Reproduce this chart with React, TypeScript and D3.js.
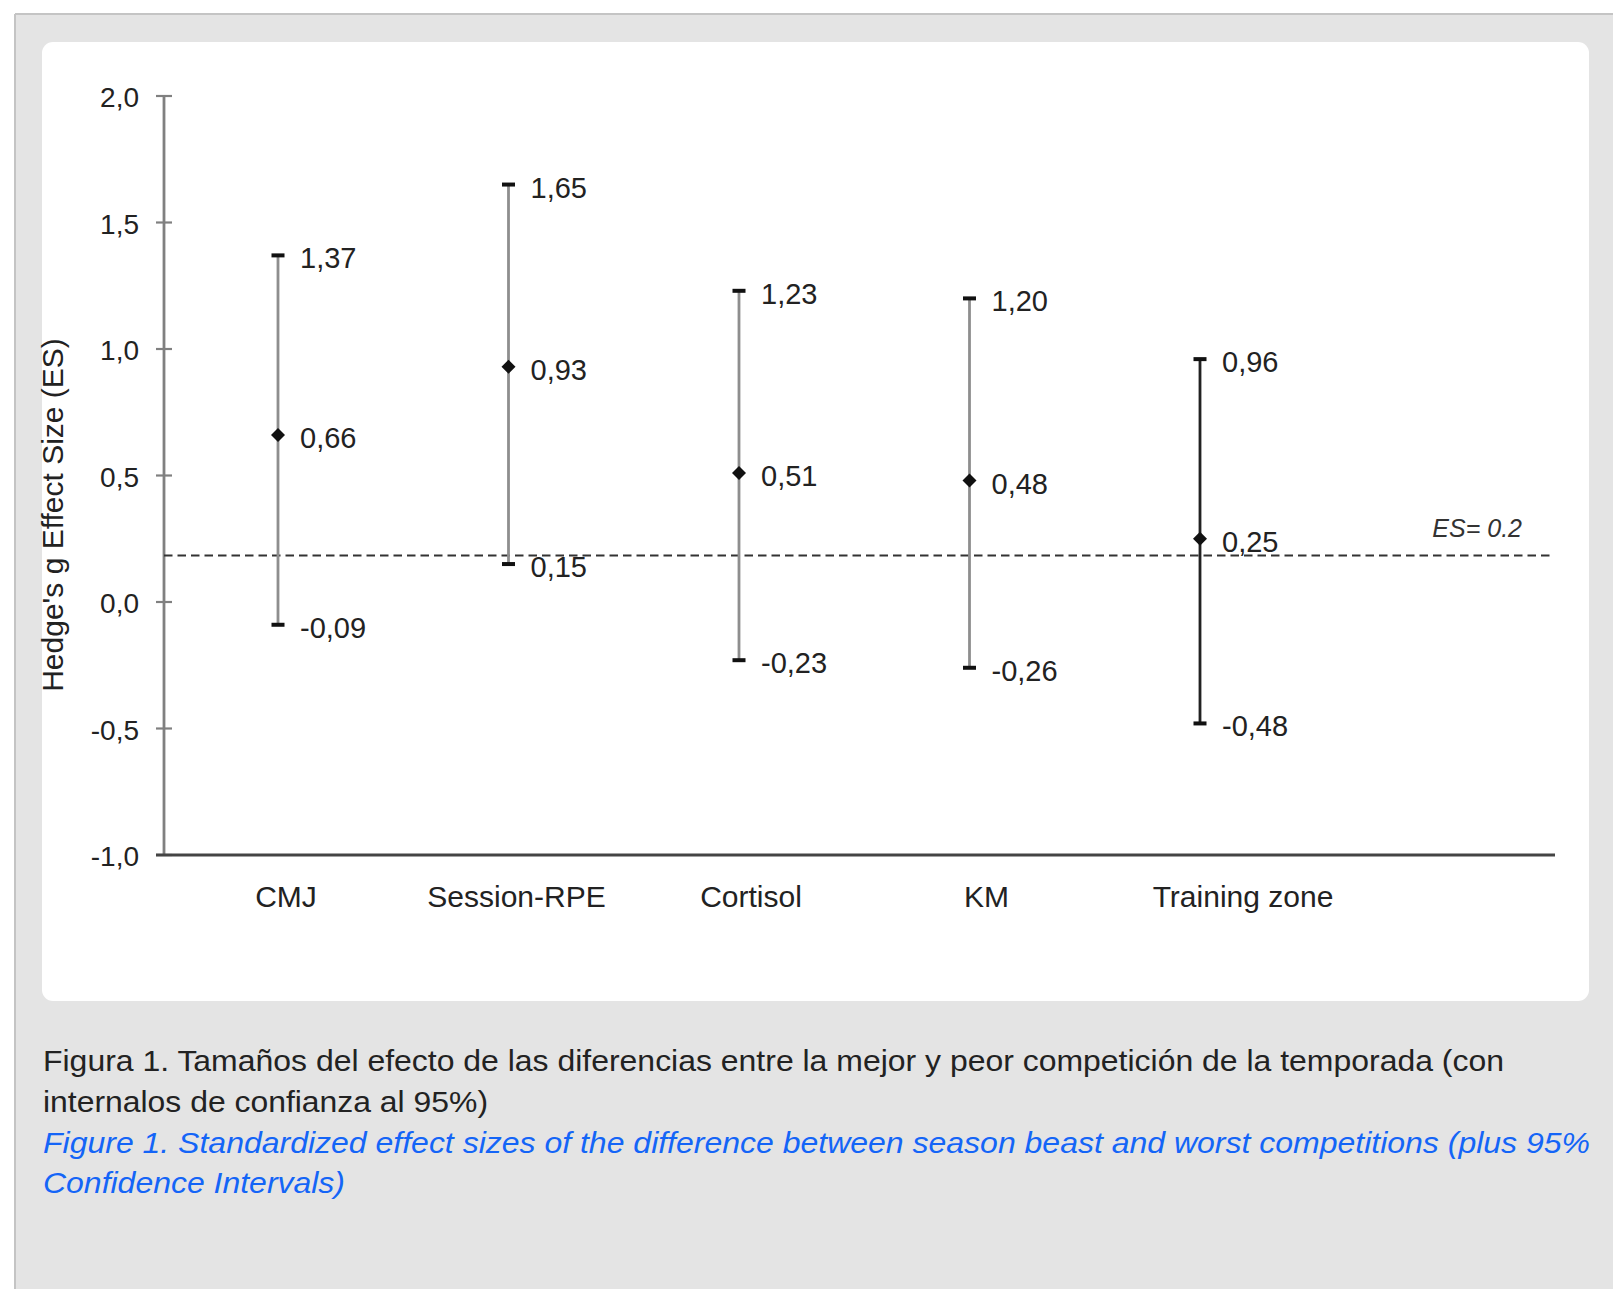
import React from 'react';
import * as d3 from 'd3';

const categories = ['CMJ', 'Session-RPE', 'Cortisol', 'KM', 'Training zone'];
const upperCI = [1.37, 1.65, 1.23, 1.2, 0.96];
const meanES = [0.66, 0.93, 0.51, 0.48, 0.25];
const lowerCI = [-0.09, 0.15, -0.23, -0.26, -0.48];
const yTicks = [-1, -0.5, 0, 0.5, 1, 1.5, 2];
const thresholdES = 0.2;
const thresholdLabel = 'ES= 0.2';
const yTitle = "Hedge's g Effect Size (ES)";
const captionEs = [
  'Figura 1. Tamaños del efecto de las diferencias entre la mejor y peor competición de la temporada (con',
  'internalos de confianza al 95%)',
];
const captionEn = [
  'Figure 1. Standardized effect sizes of the difference between season beast and worst competitions (plus 95%',
  'Confidence Intervals)',
];

const W = 1613;
const H = 1289;
const FONT = '"Liberation Sans", Arial, Helvetica, sans-serif';

const fmt2 = (v: number) => d3.format('.2f')(v).replace('.', ',').replace('−', '-');
const fmt1 = (v: number) => d3.format('.1f')(v).replace('.', ',').replace('−', '-');

// layout-only nudges for category label placement
const labelNudge: Record<string, number> = { CMJ: 8, 'Session-RPE': 8, Cortisol: 12, KM: 17, 'Training zone': 43 };

export default function App() {
  const x = d3.scalePoint<string>().domain(categories).range([278, 1200]);
  const y = d3.scaleLinear().domain([-1, 2]).range([855, 96]);
  const axisX = 164;
  const axisRight = 1555;
  const emphasized = 'Training zone';

  const dH = 7;
  const diamond = `M0,${-dH}L${dH},0L0,${dH}L${-dH},0Z`;

  const capW = 13;
  const capH = 4;
  const captionWidthsEs = [1461, 445];
  const captionWidthsEn = [1547, 302];

  return (
    <svg
      width={W}
      height={H}
      style={{ position: 'absolute', left: 0, top: 0, display: 'block' }}
      fontFamily={FONT}
    >
      <rect x={0} y={0} width={W} height={H} fill="#ffffff" />
      {/* outer gray frame */}
      <rect x={15} y={14} width={W - 15} height={H - 14} fill="#e4e4e4" />
      <line x1={15} y1={14} x2={W} y2={14} stroke="#c4c4c4" strokeWidth={2} />
      <line x1={15} y1={14} x2={15} y2={H} stroke="#c4c4c4" strokeWidth={2} />
      {/* white panel */}
      <rect x={42} y={42} width={1547} height={959} rx={11} ry={11} fill="#ffffff" />

      {/* y axis */}
      <line x1={axisX} y1={y(2)} x2={axisX} y2={y(-1)} stroke="#808080" strokeWidth={2.8} />
      {yTicks.map((t) => (
        <g key={t}>
          <line x1={axisX - 8} x2={axisX + 8} y1={y(t)} y2={y(t)} stroke="#808080" strokeWidth={2.2} />
          <text x={139} y={y(t) + 11} textAnchor="end" fontSize={28} fill="#222">
            {fmt1(t)}
          </text>
        </g>
      ))}
      {/* x axis */}
      <line x1={axisX - 8} y1={y(-1)} x2={axisRight} y2={y(-1)} stroke="#444" strokeWidth={2.8} />

      {/* y title */}
      <text transform={`translate(63, 515) rotate(-90)`} textAnchor="middle" fontSize={30} fill="#222">
        {yTitle}
      </text>

      {/* threshold dashed line */}
      <line
        x1={axisX}
        x2={1553}
        y1={y(thresholdES) + 4}
        y2={y(thresholdES) + 4}
        stroke="#333"
        strokeWidth={2}
        strokeDasharray="8.5 5"
      />
      <text x={1522} y={y(thresholdES) - 14} textAnchor="end" fontSize={25} fontStyle="italic" fill="#333">
        {thresholdLabel}
      </text>

      {/* error bars */}
      {categories.map((c, i) => {
        const cx = x(c) as number;
        const lineColor = c === emphasized ? '#222' : '#8e8e8e';
        return (
          <g key={c}>
            <line x1={cx} x2={cx} y1={y(upperCI[i])} y2={y(lowerCI[i])} stroke={lineColor} strokeWidth={2.8} />
            <rect x={cx - capW / 2} y={y(upperCI[i]) - capH / 2} width={capW} height={capH} fill="#111" />
            <rect x={cx - capW / 2} y={y(lowerCI[i]) - capH / 2} width={capW} height={capH} fill="#111" />
            <path d={diamond} transform={`translate(${cx},${y(meanES[i])})`} fill="#111" />
            {[upperCI[i], meanES[i], lowerCI[i]].map((v, k) => (
              <text key={k} x={cx + 22} y={y(v) + 13} fontSize={29} fill="#222">
                {fmt2(v)}
              </text>
            ))}
            <text x={cx + (labelNudge[c] ?? 0)} y={907} textAnchor="middle" fontSize={30} fill="#222">
              {c}
            </text>
          </g>
        );
      })}

      {/* captions */}
      {captionEs.map((line, i) => (
        <text
          key={'es' + i}
          x={43}
          y={1071 + i * 41}
          fontSize={29}
          fill="#222"
          textLength={captionWidthsEs[i]}
          lengthAdjust="spacingAndGlyphs"
        >
          {line}
        </text>
      ))}
      {captionEn.map((line, i) => (
        <text
          key={'en' + i}
          x={43}
          y={1153 + i * 40}
          fontSize={29}
          fontStyle="italic"
          fill="#1465f7"
          textLength={captionWidthsEn[i]}
          lengthAdjust="spacingAndGlyphs"
        >
          {line}
        </text>
      ))}
    </svg>
  );
}
